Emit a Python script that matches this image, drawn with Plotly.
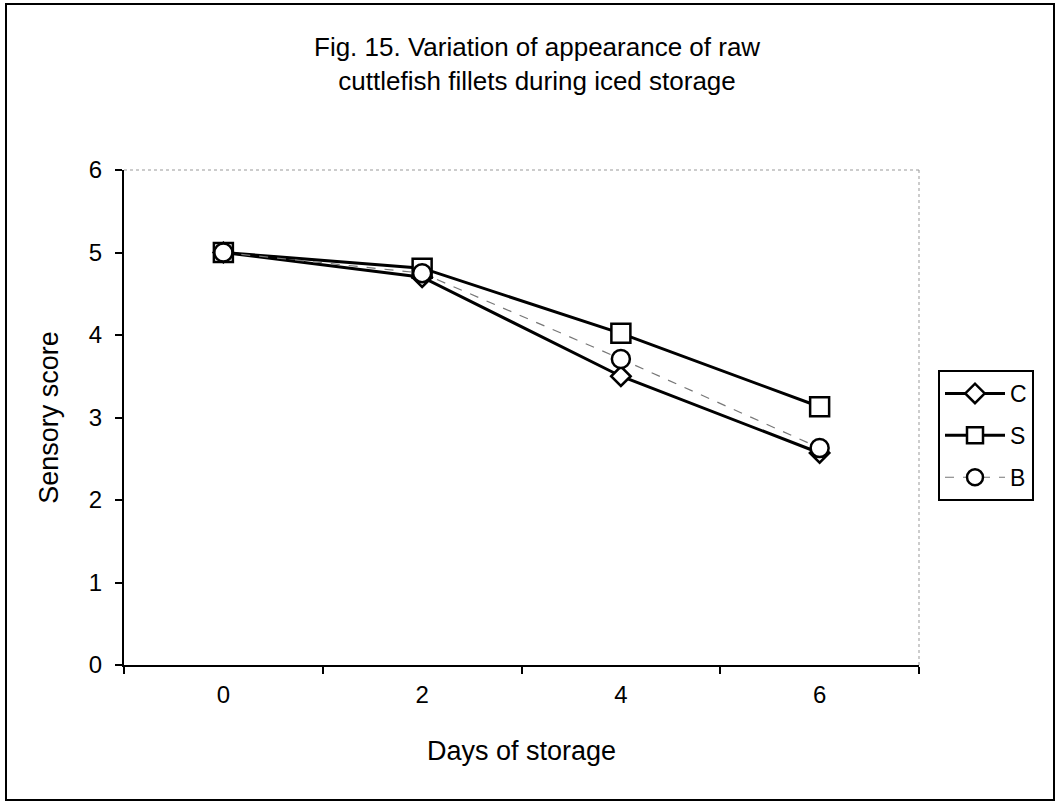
import plotly.graph_objects as go

days = ["0", "2", "4", "6"]
C = [5.0, 4.7, 3.5, 2.57]
S = [5.0, 4.81, 4.02, 3.13]
B = [5.0, 4.75, 3.71, 2.63]
yticks = [0, 1, 2, 3, 4, 5, 6]

L, R, T, Bm = 124, 142, 170, 141
W, H = 1061, 806
pw, ph = W - L - R, H - T - Bm

def px(x):
    return (x - L) / pw

def py(y):
    return (H - Bm - y) / ph

fig = go.Figure()
fig.add_trace(go.Scatter(x=days, y=C, name="C", legendgroup="C", mode="lines+markers",
                         line=dict(color="black", width=3),
                         marker=dict(symbol="diamond", size=15, color="white",
                                     line=dict(color="black", width=2.5))))
fig.add_trace(go.Scatter(x=days, y=S, name="S", legendgroup="S", mode="lines+markers",
                         line=dict(color="black", width=3),
                         marker=dict(symbol="square", size=19, color="white",
                                     line=dict(color="black", width=2.5))))
fig.add_trace(go.Scatter(x=days, y=B, name="B", legendgroup="B", mode="lines+markers",
                         line=dict(color="#777777", width=1.2, dash="dash"),
                         marker=dict(symbol="circle", size=18, color="white",
                                     line=dict(color="black", width=2.5))))

font = "Liberation Sans, Arial, sans-serif"
fig.update_layout(
    width=W, height=H,
    margin=dict(l=L, r=R, t=T, b=Bm),
    paper_bgcolor="white", plot_bgcolor="white",
    font=dict(family=font, size=23, color="black"),
    showlegend=True,
    legend=dict(x=px(938), y=py(370), xanchor="left", yanchor="top",
                bordercolor="black", borderwidth=2, bgcolor="white",
                font=dict(size=23), tracegroupgap=9, itemwidth=60),
    xaxis=dict(type="category", tickson="boundaries", ticks="outside", ticklen=7,
               tickcolor="black", tickwidth=1.5, showline=True, linecolor="black",
               linewidth=2, showgrid=False, zeroline=False, range=[-0.5, 3.5],
               ticklabelstandoff=7,
               title=dict(text="Days of storage", font=dict(size=27), standoff=34),
               tickfont=dict(size=24)),
    yaxis=dict(range=[0, 6], tickvals=yticks, ticks="outside", ticklen=7,
               tickcolor="black", tickwidth=1.5, showline=True, linecolor="black",
               linewidth=2, showgrid=False, zeroline=False,
               ticklabelstandoff=8,
               title=dict(text="Sensory score", font=dict(size=27), standoff=22),
               tickfont=dict(size=24)),
    annotations=[dict(text="Fig. 15. Variation of appearance of raw<br>cuttlefish fillets during iced storage",
                      x=px(537), y=py(64), xref="paper", yref="paper",
                      xanchor="center", yanchor="middle", showarrow=False,
                      font=dict(size=26, family=font))],
    shapes=[
        dict(type="line", xref="paper", yref="paper", x0=0, x1=1, y0=1, y1=1,
             line=dict(color="#999999", width=1, dash="dot")),
        dict(type="line", xref="paper", yref="paper", x0=1, x1=1, y0=0, y1=1,
             line=dict(color="#999999", width=1, dash="dot")),
        dict(type="rect", xref="paper", yref="paper", x0=px(6), x1=px(1054),
             y0=py(800), y1=py(4), line=dict(color="black", width=2)),
    ],
)
fig.write_html("out.html")
